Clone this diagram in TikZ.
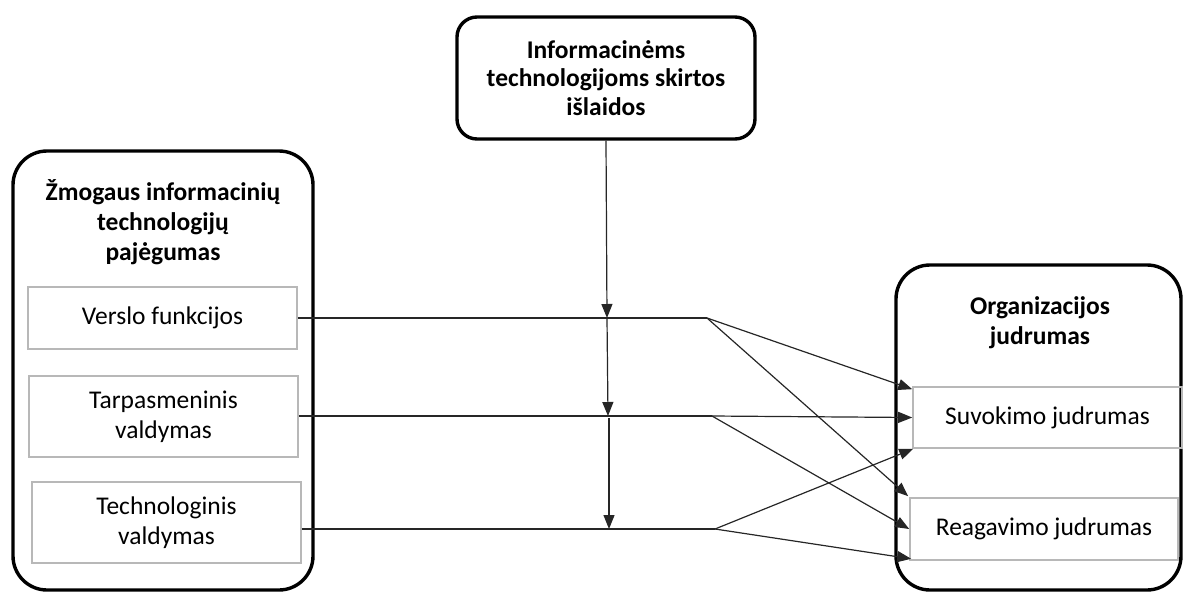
\documentclass[tikz,border=0pt]{standalone}
\usepackage{fontspec}
\setmainfont{Carlito}
\usetikzlibrary{arrows.meta,calc}
\begin{document}
\begin{tikzpicture}[x=1pt,y=-1pt,
  bigbox/.style={draw=black,line width=3.4pt,rounded corners=34pt,inner sep=0pt},
  topbox/.style={draw=black,line width=3.4pt,rounded corners=20pt,align=center,inner sep=0pt,font=\fontsize{25.5}{28.5}\selectfont\bfseries},
  inbox/.style={draw=black!28,line width=1.6pt,inner sep=0pt,align=center,font=\fontsize{25.5}{30}\selectfont},
  title/.style={align=center,font=\fontsize{25.5}{30}\selectfont\bfseries},
  conn/.style={line width=1.2pt,draw=black!85},
  arr/.style={conn,-{Triangle[length=14pt,width=11pt]}}
]
\useasboundingbox (0,0) rectangle (1184,592);
% containers
\node[bigbox,minimum width=300pt,minimum height=439pt] (left) at (163,370.5) {};
\node[bigbox,minimum width=285pt,minimum height=325pt] (right) at (1038.5,427.5) {};
\node[topbox,minimum width=298pt,minimum height=122pt] (top) at (606,78) {Informacinėms\\technologijoms skirtos\\išlaidos};
% titles
\node[title] (ltitle) at (163,222) {Žmogaus informacinių\\technologijų\\pajėgumas};
\node[title] (rtitle) at (1040,323) {Organizacijos\\judrumas};
% inner boxes
\node[inbox,minimum width=269pt,minimum height=62pt] (vers) at (162.5,318) {Verslo funkcijos};
\node[inbox,minimum width=269pt,minimum height=81pt] (tarp) at (163.5,416.5) {Tarpasmeninis\\valdymas};
\node[inbox,minimum width=269pt,minimum height=81pt] (tech) at (166.5,522.5) {Technologinis\\valdymas};
\node[inbox,minimum width=269pt,minimum height=61pt] (suv) at (1047.5,417.5) {Suvokimo judrumas};
\node[inbox,minimum width=268pt,minimum height=62pt] (rea) at (1044,529) {Reagavimo judrumas};
% junctions
\coordinate (j1) at (707,318);
\coordinate (j2) at (712,416);
\coordinate (j3) at (715,529);
\coordinate (m1) at (607,318);
\coordinate (m2) at (608,416);
\coordinate (m3) at (609,529);
% horizontal lines
\draw[conn] (vers.east) -- (j1);
\draw[conn] (tarp.east |- j2) -- (j2);
\draw[conn] (tech.east |- j3) -- (j3);
% moderator arrows
\draw[arr] (top.south) -- (m1);
\draw[arr] (m1) -- (m2);
\draw[arr] ($(m2)+(1,2)$) -- (m3);
% fan-out arrows
\draw[arr] (j1) -- ($(suv.north west)+(0,3)$);
\draw[arr] (j1) -- ($(rea.north west)+(-1,-1)$);
\draw[arr] (j2) -- (suv.west);
\draw[arr] (j2) -- (rea.west);
\draw[arr] (j3) -- ($(suv.south west)+(1,0)$);
\draw[arr] (j3) -- ($(rea.south west)+(2,-2)$);
\end{tikzpicture}
\end{document}
